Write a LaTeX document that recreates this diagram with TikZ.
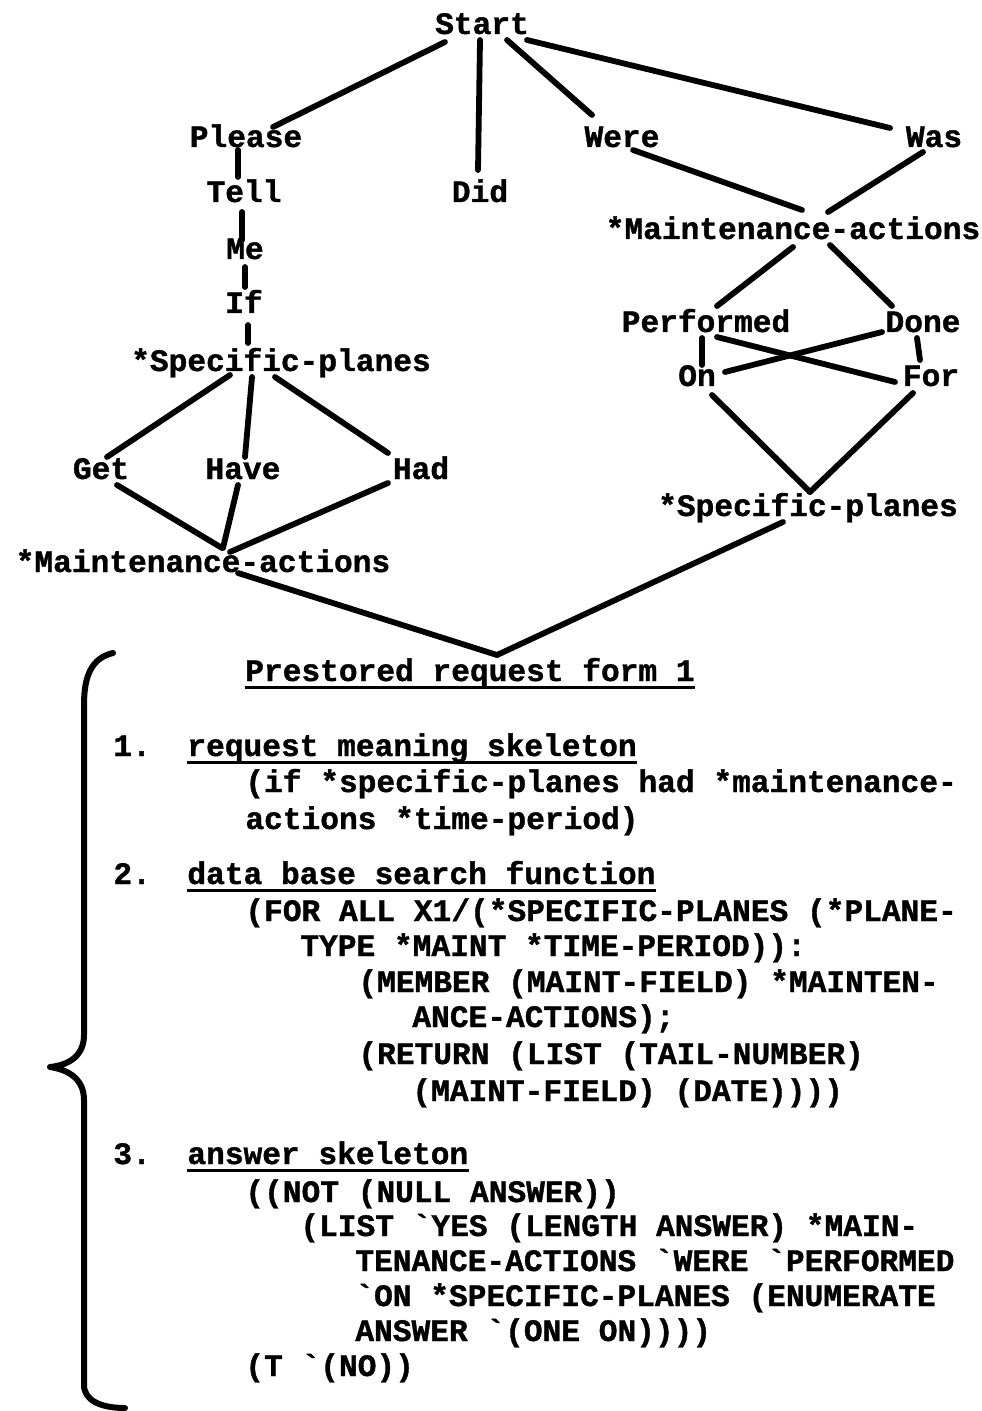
\documentclass[tikz,border=0pt]{standalone}
\usepackage{fontspec}
\newfontfamily\typew{Liberation Mono}[BoldFeatures={FakeBold=1.2}]
\usetikzlibrary{calc}

\begin{document}
\begin{tikzpicture}[x=0.5pt, y=-0.5pt,
  wrd/.style={font=\typew\bfseries\fontsize{15.6}{18}\selectfont, inner sep=0pt, text height=9pt, text depth=0pt},
  codeln/.style={wrd, anchor=west},
  lnk/.style={line width=2.9pt, line cap=round},
  uln/.style={line width=1.9pt},
  brc/.style={line width=3pt, line cap=round, line join=round}
]
\useasboundingbox (0,0) rectangle (981,1411);

% word network
\node[wrd] (start)  at (482,25)  {Start};
\node[wrd] (please) at (246,138) {Please};
\node[wrd] (tell)   at (244,193) {Tell};
\node[wrd] (did)    at (480,193) {Did};
\node[wrd] (were)   at (622,138) {Were};
\node[wrd] (was)    at (934,138) {Was};
\node[wrd] (maintR) at (793,230) {*Maintenance-actions};
\node[wrd] (me)     at (245,250) {Me};
\node[wrd] (ifw)    at (244,304) {If};
\node[wrd] (specL)  at (281,362) {*Specific-planes};
\node[wrd] (perf)   at (706,323) {Performed};
\node[wrd] (done)   at (923,323) {Done};
\node[wrd] (on)     at (697,377) {On};
\node[wrd] (for)    at (931,377) {For};
\node[wrd] (get)    at (101,470) {Get};
\node[wrd] (have)   at (243,470) {Have};
\node[wrd] (had)    at (421,470) {Had};
\node[wrd] (specR)  at (808,507) {*Specific-planes};
\node[wrd] (maintL) at (203,563) {*Maintenance-actions};
\node[wrd] (title)  at (470,672) {Prestored request form 1};

\draw[lnk] ($(start)+(-37,17)$) -- ($(please)+(27,-11)$);
\draw[lnk] ($(start)+(-2,15)$) -- ($(did)+(-2,-23)$);
\draw[lnk] ($(start)+(25,15)$) -- ($(were)+(-30,-23)$);
\draw[lnk] ($(start)+(45,15)$) -- ($(was)+(-44,-10)$);
\draw[lnk] ($(please)+(-8,12)$) -- ($(tell)+(-6,-16)$);
\draw[lnk] ($(tell)+(-2,19)$) -- ($(me)+(-3,-10)$);
\draw[lnk] ($(me)+(0,17)$) -- ($(ifw)+(1,-17)$);
\draw[lnk] ($(ifw)+(4,21)$) -- ($(specL)+(-33,-19)$);
\draw[lnk] ($(specL)+(-51,13)$) -- ($(get)+(6,-13)$);
\draw[lnk] ($(specL)+(-29,15)$) -- ($(have)+(2,-13)$);
\draw[lnk] ($(specL)+(-6,15)$) -- ($(had)+(-33,-17)$);
\draw[lnk] ($(get)+(16,15)$) -- ($(maintL)+(19,-15)$);
\draw[lnk] ($(have)+(-5,15)$) -- ($(maintL)+(20,-15)$);
\draw[lnk] ($(had)+(-33,13)$) -- ($(maintL)+(27,-11)$);
\draw[lnk] ($(were)+(11,12)$) -- ($(maintR)+(9,-20)$);
\draw[lnk] ($(was)+(-11,14)$) -- ($(maintR)+(35,-18)$);
\draw[lnk] ($(maintR)+(0,17)$) -- ($(perf)+(11,-17)$);
\draw[lnk] ($(maintR)+(37,15)$) -- ($(done)+(-31,-17)$);
\draw[lnk] ($(perf)+(-4,15)$) -- ($(on)+(5,-12)$);
\draw[lnk] ($(done)+(-6,15)$) -- ($(for)+(-11,-17)$);
\draw[lnk] ($(perf)+(11,14)$) -- ($(for)+(-36,5)$);
\draw[lnk] ($(done)+(-41,9)$) -- ($(on)+(28,-5)$);
\draw[lnk] ($(on)+(15,18)$) -- ($(specR)+(2,-15)$);
\draw[lnk] ($(for)+(-18,16)$) -- ($(specR)+(2,-15)$);
\draw[lnk] ($(maintL)+(35,10)$) -- ($(title)+(27,-17)$);
\draw[lnk] ($(specR)+(-25,15)$) -- ($(title)+(27,-17)$);

% request form
\node[codeln] (n1) at (113,747)  {1.};
\node[codeln] (h1) at (187,747)  {request meaning skeleton};
\node[codeln] (c1) at (245,783)  {(if *specific-planes had *maintenance-};
\node[codeln] (c2) at (245,820)  {actions *time-period)};
\node[codeln] (n2) at (113,875)  {2.};
\node[codeln] (h2) at (187,875)  {data base search function};
\node[codeln] (c3) at (245,912)  {(FOR ALL X1/(*SPECIFIC-PLANES (*PLANE-};
\node[codeln] (c4) at (300,947)  {TYPE *MAINT *TIME-PERIOD)):};
\node[codeln] (c5) at (358,983)  {(MEMBER (MAINT-FIELD) *MAINTEN-};
\node[codeln] (c6) at (412,1018) {ANCE-ACTIONS);};
\node[codeln] (c7) at (358,1055) {(RETURN (LIST (TAIL-NUMBER)};
\node[codeln] (c8) at (412,1092) {(MAINT-FIELD) (DATE))))};
\node[codeln] (n3) at (113,1155) {3.};
\node[codeln] (h3) at (187,1155) {answer skeleton};
\node[codeln] (c9)  at (245,1193) {((NOT (NULL ANSWER))};
\node[codeln] (c10) at (300,1227) {(LIST \textasciigrave YES (LENGTH ANSWER) *MAIN-};
\node[codeln] (c11) at (355,1262) {TENANCE-ACTIONS \textasciigrave WERE \textasciigrave PERFORMED};
\node[codeln] (c12) at (355,1297) {\textasciigrave ON *SPECIFIC-PLANES (ENUMERATE};
\node[codeln] (c13) at (355,1332) {ANSWER \textasciigrave(ONE ON))))};
\node[codeln] (c14) at (245,1367) {(T \textasciigrave(NO))};

\draw[uln] ($(title.south west)+(0,6)$) -- ($(title.south east)+(0,6)$);
\draw[uln] ($(h1.south west)+(0,6)$) -- ($(h1.south east)+(0,6)$);
\draw[uln] ($(h2.south west)+(0,6)$) -- ($(h2.south east)+(0,6)$);
\draw[uln] ($(h3.south west)+(0,6)$) -- ($(h3.south east)+(0,6)$);

\draw[brc] (113,653) .. controls (92,658) and (84,675) .. (84,705) -- (84,1035)
  .. controls (84,1055) and (70,1065) .. (50,1067)
  .. controls (70,1070) and (84,1080) .. (84,1100) -- (84,1385)
  .. controls (84,1400) and (100,1408) .. (125,1408);
\end{tikzpicture}
\end{document}
